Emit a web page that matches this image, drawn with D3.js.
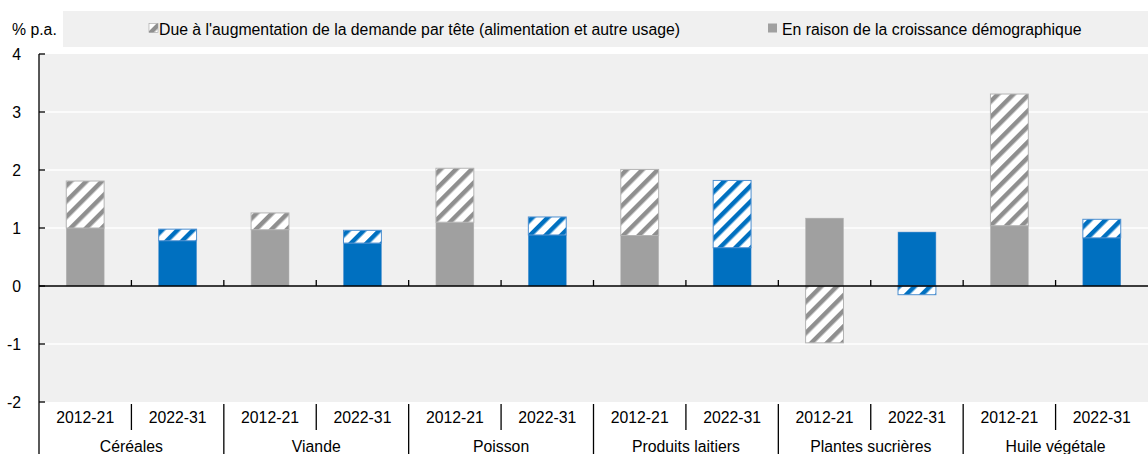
<!DOCTYPE html>
<html>
<head>
<meta charset="utf-8">
<script src="https://cdn.jsdelivr.net/npm/d3@7"></script>
<style>
  body { margin: 0; background: #fff; }
  svg text { font-family: "Liberation Sans", Arial, sans-serif; font-size: 15.8px; fill: #000; }
</style>
</head>
<body>
<div id="chart"></div>
<script>
var width = 1148,
    height = 454;

// data
var categories = ["Céréales", "Viande", "Poisson", "Produits laitiers", "Plantes sucrières", "Huile végétale"];
var periods = ["2012-21", "2022-31"];
var popGrowth = [1.00, 0.78, 0.97, 0.74, 1.10, 0.88, 0.87, 0.66, 1.17, 0.93, 1.04, 0.83];
var perCapita = [0.81, 0.20, 0.29, 0.22, 0.93, 0.31, 1.14, 1.16, -0.98, -0.15, 2.27, 0.32];
var yTicks = [-2, -1, 0, 1, 2, 3, 4];
var legendLabels = ["Due à l'augmentation de la demande par tête (alimentation et autre usage)",
                    "En raison de la croissance démographique"];

var rows = [];
categories.forEach(function(c, i) {
  periods.forEach(function(p, j) {
    var k = i * 2 + j;
    rows.push({cat: c, period: p, pop: popGrowth[k], pc: perCapita[k]});
  });
});

var margin = {left: 39, right: 0, top: 54, bottom: 52};
var plotBottom = height - margin.bottom;

var svg = d3.select("#chart").append("svg")
    .attr("width", width)
    .attr("height", height);

var defs = svg.append("defs");
function hatch(id, color) {
  var p = defs.append("pattern")
      .attr("id", id)
      .attr("patternUnits", "userSpaceOnUse")
      .attr("width", 11)
      .attr("height", 11)
      .attr("patternTransform", "rotate(45)");
  p.append("rect").attr("width", 11).attr("height", 11).attr("fill", "#fff");
  p.append("rect").attr("width", 4.5).attr("height", 11).attr("fill", color);
}
hatch("hatchGray", "#8f8f8f");
hatch("hatchBlue", "#0070c0");

var x0 = d3.scaleBand()
    .domain(categories)
    .range([margin.left, width - margin.right]);

var x1 = d3.scaleBand()
    .domain(periods)
    .range([0, x0.bandwidth()])
    .paddingInner(0.59)
    .paddingOuter(0.295);

var y = d3.scaleLinear()
    .domain([-2, 4])
    .range([plotBottom, margin.top]);

// plot background + grid
svg.append("rect")
    .attr("x", margin.left)
    .attr("y", margin.top)
    .attr("width", width - margin.left - margin.right)
    .attr("height", plotBottom - margin.top)
    .attr("fill", "#f0f0f0");

svg.append("g").selectAll("line")
    .data(yTicks.filter(function(t) { return t !== 0 && t !== -2 && t !== 4; }))
    .enter().append("line")
    .attr("x1", margin.left)
    .attr("x2", width)
    .attr("y1", function(d) { return y(d); })
    .attr("y2", function(d) { return y(d); })
    .attr("stroke", "#fff")
    .attr("stroke-width", 1.5);

// legend
svg.append("text").attr("x", 12).attr("y", 35).text("% p.a.");
svg.append("rect")
    .attr("x", 63).attr("y", 11)
    .attr("width", width - 63).attr("height", 36)
    .attr("fill", "#f0f0f0");
var legendX = [149, 768];
var lg = svg.append("g").selectAll("g")
    .data(legendLabels)
    .enter().append("g")
    .attr("transform", function(d, i) { return "translate(" + legendX[i] + ",0)"; });
lg.append("rect")
    .attr("x", 0).attr("y", 23.5)
    .attr("width", 9).attr("height", 9)
    .attr("fill", function(d, i) { return i === 0 ? "url(#hatchGray)" : "#a0a0a0"; })
    .attr("stroke", function(d, i) { return i === 0 ? "#a0a0a0" : "none"; })
    .attr("stroke-width", 0.6);
lg.append("text")
    .attr("x", function(d, i) { return i === 0 ? 10 : 14; })
    .attr("y", 35)
    .text(function(d) { return d; });

// bars
var stack = d3.stack()
    .keys(["pop", "pc"])
    .offset(d3.stackOffsetDiverging);
var series = stack(rows);

function isFirst(d) { return d.data.period === periods[0]; }

var bars = svg.append("g").selectAll("g")
    .data(series)
    .enter().append("g");

bars.selectAll("rect")
    .data(function(s) { return s.map(function(d) { d.key = s.key; return d; }); })
    .enter().append("rect")
    .attr("x", function(d) { return x0(d.data.cat) + x1(d.data.period); })
    .attr("width", x1.bandwidth())
    .attr("y", function(d) { return y(Math.max(d[0], d[1])); })
    .attr("height", function(d) { return Math.abs(y(d[0]) - y(d[1])); })
    .attr("fill", function(d) {
      if (d.key === "pop") return isFirst(d) ? "#a0a0a0" : "#0070c0";
      return isFirst(d) ? "url(#hatchGray)" : "url(#hatchBlue)";
    })
    .attr("stroke", function(d) { return isFirst(d) ? "#b4b4b4" : "#4d8fd0"; })
    .attr("stroke-width", function(d) { return d.key === "pop" ? 0.5 : 1; });

// zero line with small ticks between bars
svg.append("line")
    .attr("x1", margin.left).attr("x2", width)
    .attr("y1", y(0)).attr("y2", y(0))
    .attr("stroke", "#000").attr("stroke-width", 1.3);

var between = [];
categories.forEach(function(c, i) {
  between.push(x0(c) + x0.bandwidth() / 2);
  if (i > 0) between.push(x0(c));
});
svg.append("g").selectAll("line")
    .data(between)
    .enter().append("line")
    .attr("x1", function(d) { return d; }).attr("x2", function(d) { return d; })
    .attr("y1", y(0) - 6).attr("y2", y(0))
    .attr("stroke", "#000").attr("stroke-width", 1.3);

// y axis
var yAxis = svg.append("g");
yAxis.append("line")
    .attr("x1", margin.left).attr("x2", margin.left)
    .attr("y1", margin.top).attr("y2", height)
    .attr("stroke", "#000").attr("stroke-width", 1.3);
yAxis.selectAll("line.tick")
    .data(yTicks)
    .enter().append("line")
    .attr("class", "tick")
    .attr("x1", margin.left).attr("x2", margin.left + 6)
    .attr("y1", function(d) { return y(d); })
    .attr("y2", function(d) { return y(d); })
    .attr("stroke", "#000").attr("stroke-width", 1.3);
yAxis.selectAll("text")
    .data(yTicks)
    .enter().append("text")
    .attr("x", 21)
    .attr("y", function(d) { return y(d); })
    .attr("dy", "0.35em")
    .attr("text-anchor", "end")
    .text(function(d) { return d; });

// category axis below
var xa = svg.append("g");
xa.selectAll("text.period")
    .data(rows)
    .enter().append("text")
    .attr("class", "period")
    .attr("x", function(d) { return x0(d.cat) + x1(d.period) + x1.bandwidth() / 2; })
    .attr("y", plotBottom + 21)
    .attr("text-anchor", "middle")
    .text(function(d) { return d.period; });
xa.selectAll("text.cat")
    .data(categories)
    .enter().append("text")
    .attr("class", "cat")
    .attr("x", function(d) { return x0(d) + x0.bandwidth() / 2; })
    .attr("y", plotBottom + 50)
    .attr("text-anchor", "middle")
    .text(function(d) { return d; });
xa.selectAll("line.sub")
    .data(categories)
    .enter().append("line")
    .attr("class", "sub")
    .attr("x1", function(d) { return x0(d) + x0.bandwidth() / 2; })
    .attr("x2", function(d) { return x0(d) + x0.bandwidth() / 2; })
    .attr("y1", plotBottom + 2).attr("y2", plotBottom + 28)
    .attr("stroke", "#000").attr("stroke-width", 1.3);
xa.selectAll("line.grp")
    .data(categories.slice(1))
    .enter().append("line")
    .attr("class", "grp")
    .attr("x1", function(d) { return x0(d); })
    .attr("x2", function(d) { return x0(d); })
    .attr("y1", plotBottom + 2).attr("y2", height)
    .attr("stroke", "#000").attr("stroke-width", 1.3);
</script>
</body>
</html>
